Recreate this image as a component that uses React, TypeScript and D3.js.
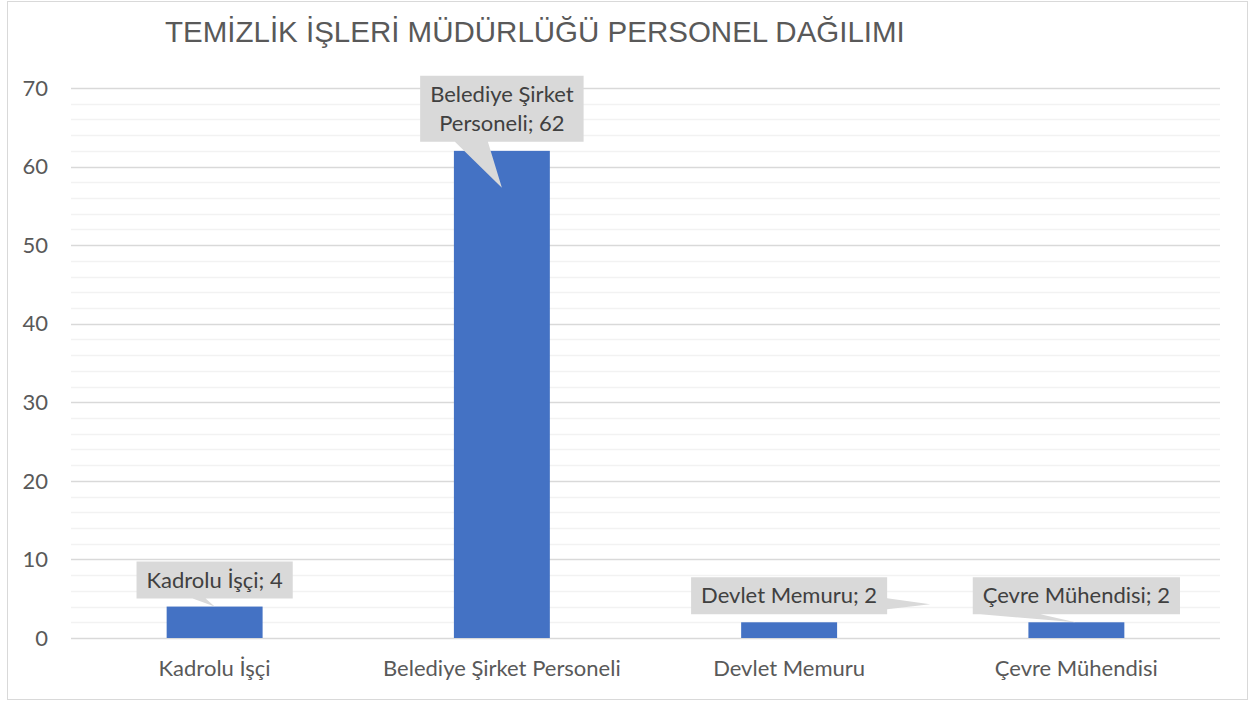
import React, { useEffect, useRef } from 'react';
import * as d3 from 'd3';

// Chart data
const categories = ['Kadrolu İşçi', 'Belediye Şirket Personeli', 'Devlet Memuru', 'Çevre Mühendisi'];
const values = [4, 62, 2, 2];
const calloutLines = [
  ['Kadrolu İşçi; 4'],
  ['Belediye Şirket', 'Personeli; 62'],
  ['Devlet Memuru; 2'],
  ['Çevre Mühendisi; 2'],
];
const yTicks = [0, 10, 20, 30, 40, 50, 60, 70];
const title = 'TEMİZLİK İŞLERİ MÜDÜRLÜĞÜ PERSONEL DAĞILIMI';

// Callout placement (relative to bar top centre)
const calloutLayout = [
  { gap: 8, side: 'bottom', a0: -22, a1: -9, tipX: 0, tipY: 0 },
  { gap: 9, side: 'bottom', a0: -47, a1: -14, tipX: 0, tipY: 37 },
  { gap: 8, side: 'right', a0: 21, a1: 32, tipX: 141, tipY: -18 },
  { gap: 8, side: 'bottom', a0: -96, a1: -36, tipX: -1, tipY: 0 },
];

const W = 1250;
const H = 702;
const margin = { top: 88, right: 30, bottom: 64, left: 71 };
const labelFont = 'Lato, "Noto Sans", sans-serif';
const labelSize = 22;

const App = () => {
  const ref = useRef<SVGSVGElement>(null);

  useEffect(() => {
    const svg = d3.select(ref.current);
    svg.selectAll('*').remove();

    svg.append('rect')
      .attr('x', 7.5).attr('y', 1.5)
      .attr('width', 1240).attr('height', 698)
      .attr('fill', '#fff')
      .attr('stroke', '#d9d9d9');

    const x = d3.scaleBand()
      .domain(categories)
      .range([margin.left, W - margin.right])
      .paddingInner(0.666)
      .paddingOuter(0.333);

    const y = d3.scaleLinear()
      .domain([0, 70])
      .range([H - margin.bottom, margin.top]);

    // minor gridlines
    svg.append('g')
      .selectAll('line')
      .data(d3.range(0, 71, 2).filter(v => v % 10 !== 0))
      .join('line')
      .attr('x1', margin.left).attr('x2', W - margin.right)
      .attr('y1', d => Math.round(y(d)) + 0.5).attr('y2', d => Math.round(y(d)) + 0.5)
      .attr('stroke', '#f2f2f2')
      .attr('stroke-width', 1.3);

    // major gridlines
    svg.append('g')
      .selectAll('line')
      .data(yTicks)
      .join('line')
      .attr('x1', margin.left).attr('x2', W - margin.right)
      .attr('y1', d => Math.round(y(d)) + 0.5).attr('y2', d => Math.round(y(d)) + 0.5)
      .attr('stroke', '#d9d9d9')
      .attr('stroke-width', 1.3);

    // y tick labels
    svg.append('g')
      .selectAll('text')
      .data(yTicks)
      .join('text')
      .attr('x', 48)
      .attr('y', d => y(d))
      .attr('dy', '0.35em')
      .attr('text-anchor', 'end')
      .attr('font-family', labelFont)
      .attr('font-size', labelSize)
      .attr('fill', '#595959')
      .text(d => d);

    // category labels
    svg.append('g')
      .selectAll('text')
      .data(categories)
      .join('text')
      .attr('x', d => x(d)! + x.bandwidth() / 2)
      .attr('y', 676)
      .attr('text-anchor', 'middle')
      .attr('font-family', labelFont)
      .attr('font-size', labelSize)
      .attr('fill', '#595959')
      .text(d => d);

    // bars
    svg.append('g')
      .selectAll('rect')
      .data(values)
      .join('rect')
      .attr('x', (d, i) => x(categories[i])!)
      .attr('width', x.bandwidth())
      .attr('y', d => y(d))
      .attr('height', d => y(0) - y(d))
      .attr('fill', '#4472c4');

    // callouts
    const cg = svg.append('g');
    values.forEach((v, i) => {
      const L = calloutLayout[i];
      const cx = x(categories[i])! + x.bandwidth() / 2;
      const yt = y(v);
      const lines = calloutLines[i];
      const g = cg.append('g');
      const path = g.append('path').attr('fill', '#d9d9d9');
      const lh = 29;
      const boxH = lines.length === 1 ? 37 : 66;
      const bottom = yt - L.gap;
      const top = bottom - boxH;
      const mid = (top + bottom) / 2;
      const texts = g.selectAll('text')
        .data(lines)
        .join('text')
        .attr('x', cx)
        .attr('y', (d, k) => mid + (k - (lines.length - 1) / 2) * lh)
        .attr('dy', '0.35em')
        .attr('text-anchor', 'middle')
        .attr('font-family', labelFont)
        .attr('font-size', labelSize)
        .attr('fill', '#404040')
        .text(d => d);
      let tw = 0;
      texts.each(function () {
        tw = Math.max(tw, (this as SVGTextElement).getComputedTextLength());
      });
      const left = cx - tw / 2 - 10;
      const right = cx + tw / 2 + 10;
      const tx = cx + L.tipX;
      const ty = yt + L.tipY;
      let d = '';
      if (L.side === 'bottom') {
        d = `M${left},${top}H${right}V${bottom}H${cx + L.a1}L${tx},${ty}L${cx + L.a0},${bottom}H${left}Z`;
      } else {
        d = `M${left},${top}H${right}V${top + L.a0}L${tx},${ty}L${right},${top + L.a1}V${bottom}H${left}Z`;
      }
      path.attr('d', d);
    });

    // title
    svg.append('text')
      .attr('x', 165)
      .attr('y', 42)
      .attr('font-family', '"Liberation Sans", Arial, sans-serif')
      .attr('font-size', 29.5)
      .attr('fill', '#595959')
      .text(title);
  }, []);

  return (
    <svg
      ref={ref}
      width={W}
      height={H}
      style={{ position: 'absolute', left: 0, top: 0, display: 'block' }}
    />
  );
};

export default App;
